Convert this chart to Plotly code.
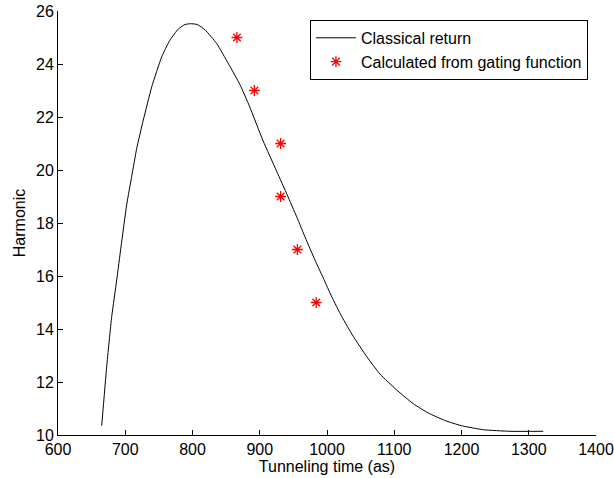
import plotly.graph_objects as go

# Classical return curve
curve_t = [665, 672.4, 679.9, 687.3, 693.7, 702.2, 709.6, 717, 726.8, 739.3, 754.2, 766.5,
           778.9, 788.8, 797, 807.1, 818.6, 836, 853.2, 870.6, 884.5, 905, 925.2, 941,
           955, 968.8, 982.2, 994.5, 1007, 1021.9, 1039.1, 1059, 1078.8, 1103.6, 1128.3,
           1150.6, 1175, 1200, 1232.4, 1272, 1321.6]
curve_h = [10.35, 12.58, 14.47, 15.85, 17.1, 18.7, 19.76, 20.81, 21.88, 23.13, 24.27, 24.9,
           25.32, 25.49, 25.52, 25.49, 25.29, 24.77, 24.02, 23.22, 22.42, 21.1, 19.95, 19.05,
           18.23, 17.38, 16.6, 15.92, 15.22, 14.47, 13.72, 12.96, 12.3, 11.7, 11.18,
           10.83, 10.55, 10.35, 10.2, 10.14, 10.14]

# Points calculated from gating function
gate_t = [866, 892, 931, 931, 956, 984]
gate_h = [25, 23, 21, 19, 17, 15]

x_ticks = [600, 700, 800, 900, 1000, 1100, 1200, 1300, 1400]
y_ticks = [10, 12, 14, 16, 18, 20, 22, 24, 26]

font = "Liberation Sans, Arial, Helvetica, sans-serif"

fig = go.Figure()
fig.add_trace(go.Scatter(x=curve_t, y=curve_h, mode="lines", name="Classical return",
                         line=dict(color="black", width=1, shape="spline", smoothing=0.5)))
fig.add_trace(go.Scatter(x=gate_t, y=gate_h, mode="markers", name="Calculated from gating function",
                         marker=dict(symbol="asterisk-open", size=9, color="red",
                                     line=dict(color="red", width=1.3))))

fig.update_layout(
    width=614, height=478,
    margin=dict(l=58, r=18, t=11, b=43),
    paper_bgcolor="white", plot_bgcolor="white",
    font=dict(family=font, size=16, color="black"),
    showlegend=True,
    legend=dict(x=0.985, y=0.979, xanchor="right", yanchor="top",
                bordercolor="black", borderwidth=1, bgcolor="white",
                font=dict(size=16), tracegroupgap=0, itemwidth=40),
    xaxis=dict(range=[600, 1400], tickvals=x_ticks, ticktext=[str(v) for v in x_ticks],
               ticks="inside", ticklen=5, tickcolor="black", showline=True, linecolor="black",
               linewidth=1, showgrid=False, zeroline=False, automargin=False,
               title=dict(text="Tunneling time (as)", standoff=2, font=dict(size=16))),
    yaxis=dict(range=[10, 26], tickvals=y_ticks, ticktext=[str(v) for v in y_ticks],
               ticks="inside", ticklen=5, tickcolor="black", showline=True, linecolor="black",
               linewidth=1, showgrid=False, zeroline=False, automargin=False,
               title=dict(text="Harmonic", standoff=6, font=dict(size=16))),
)

fig.write_html("out.html")
